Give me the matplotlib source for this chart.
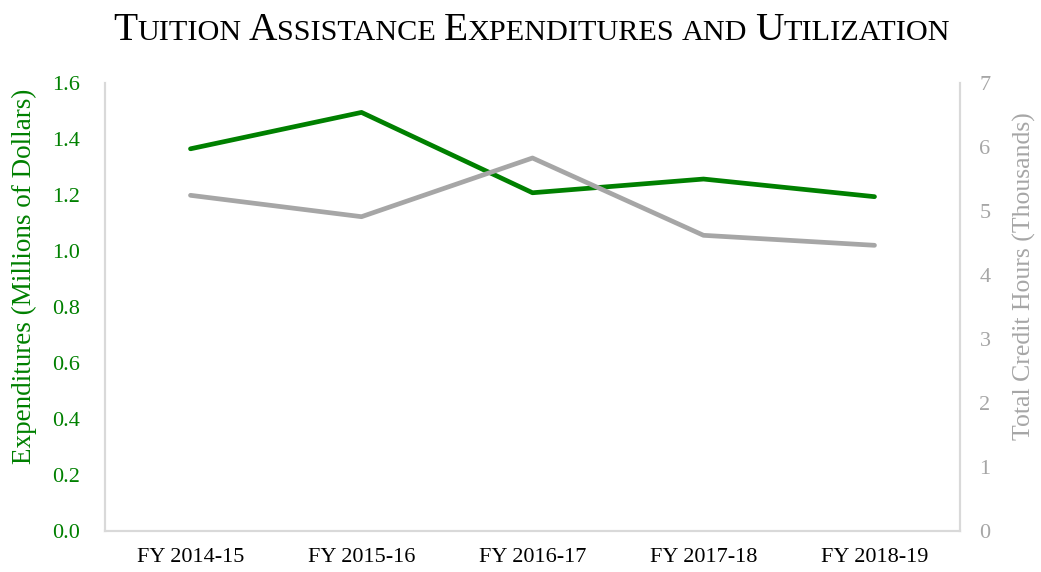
import matplotlib
matplotlib.use("Agg")
import matplotlib.pyplot as plt

# data
years = ['FY 2014-15', 'FY 2015-16', 'FY 2016-17', 'FY 2017-18', 'FY 2018-19']
expenditures = [1.365, 1.495, 1.208, 1.257, 1.194]   # millions of dollars
credit_hours = [5.245, 4.911, 5.828, 4.620, 4.464]   # thousands

title = "Tuition Assistance Expenditures and Utilization"

green = "#008000"
gray = "#a6a6a6"
spine_col = "#d9d9d9"
serif = ['Liberation Serif', 'DejaVu Serif']

plt.rcParams['font.family'] = serif

W, H = 1041, 572
fig = plt.figure(figsize=(W / 100, H / 100), dpi=100)
ax = fig.add_axes([105 / W, 1 - 531 / H, (960 - 105) / W, (531 - 83) / H])
ax2 = ax.twinx()

x = range(len(years))
ax.plot(x, expenditures, color=green, lw=3.4, solid_capstyle='round', zorder=3)
ax2.plot(x, credit_hours, color=gray, lw=3.4, solid_capstyle='round', zorder=2)

ax.set_xlim(-0.5, len(years) - 0.5)
ax.set_ylim(0, 1.6)
ax2.set_ylim(0, 7)
ax.set_yticks([i * 0.2 for i in range(9)])
ax.set_yticklabels(["%.1f" % (i * 0.2) for i in range(9)])
ax2.set_yticks(range(8))
ax.set_xticks(list(x))
ax.set_xticklabels(years)

for a in (ax, ax2):
    a.spines['top'].set_visible(False)
    for s in ('left', 'right', 'bottom'):
        a.spines[s].set_color(spine_col)
        a.spines[s].set_linewidth(1.5)
    a.tick_params(length=0)
ax.tick_params(axis='y', colors=green, labelsize=16, pad=18)
ax.tick_params(axis='x', colors='black', labelsize=16, pad=12)
ax2.tick_params(axis='y', colors=gray, labelsize=16, pad=14)

ax.set_ylabel("Expenditures (Millions of Dollars)", color=green, fontsize=19.5)
ax2.set_ylabel("Total Credit Hours (Thousands)", color=gray, fontsize=18.5)
ax.yaxis.set_label_coords((37 - 105) / (960 - 105), 0.569)
ax2.yaxis.set_label_coords((1013 - 105) / (960 - 105), 0.569)

# small caps title built from pieces
def pieces(txt):
    out = []
    for i, word in enumerate(txt.split(' ')):
        if i > 0:
            out.append((' ', 'small'))
        if word[0].isupper():
            out.append((word[0], 'big'))
            rest = word[1:]
        else:
            rest = word
        if rest:
            out.append((rest.upper(), 'small'))
    return out

renderer = fig.canvas.get_renderer()
parts = pieces(title)

def draw_title(big):
    small = big * 0.77
    objs = []
    for s, kind in parts:
        t = fig.text(0, 0, s, fontsize=big if kind == 'big' else small,
                     ha='left', va='baseline', color='black')
        objs.append(t)
    widths = [t.get_window_extent(renderer).width for t in objs]
    return objs, widths

objs, widths = draw_title(28)
total = sum(widths)
for t in objs:
    t.remove()
size = 28 * 837 / total
objs, widths = draw_title(size)
xpos = (531.5 - sum(widths) / 2)
for t, w in zip(objs, widths):
    t.set_position((xpos / W, 1 - 40 / H))
    xpos += w

fig.savefig("out.png", dpi=100)
